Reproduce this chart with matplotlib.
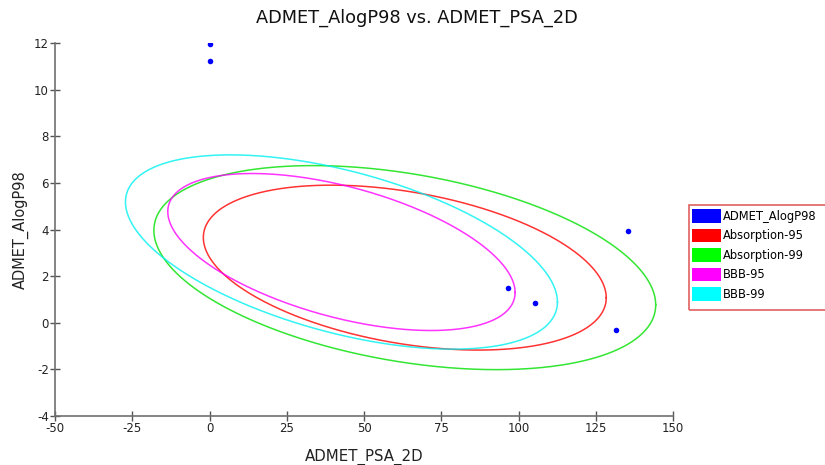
import numpy as np
import matplotlib
matplotlib.use("Agg")
import matplotlib.pyplot as plt
from matplotlib.patches import Patch, Rectangle

plt.rcParams['axes.unicode_minus'] = False

# ---- data ----
psa = [0.0, 0.0, 135.3, 96.6, 105.5, 131.7]
alogp = [11.95, 11.24, 3.96, 1.51, 0.84, -0.30]

ellipse_names = ["Absorption-95", "Absorption-99", "BBB-95", "BBB-99"]
ellipse_cx = [63.2, 63.2, 42.7, 42.7]
ellipse_cy = [2.37, 2.37, 3.04, 3.04]
ellipse_ax = [65.2, 81.2, 56.2, 69.9]     # half-range along PSA
ellipse_ay = [3.54, 4.38, 3.37, 4.17]     # half-range along AlogP
ellipse_rho = [-0.365, -0.365, -0.515, -0.515]
ellipse_colors = ["#ff0000", "#00e000", "#ff00ff", "#00f0f0"]

xticks = [-50, -25, 0, 25, 50, 75, 100, 125, 150]
yticks = [-4, -2, 0, 2, 4, 6, 8, 10, 12]

# ---- figure ----
fig = plt.figure(figsize=(8.25, 4.65), dpi=100)
ax = fig.add_axes([55/825, 1-416/465, (673-55)/825, (416-43.3)/465])

t = np.linspace(0, 2*np.pi, 500)
for cx, cy, a, b, r, c in zip(ellipse_cx, ellipse_cy, ellipse_ax, ellipse_ay,
                              ellipse_rho, ellipse_colors):
    d = np.arccos(r)
    ax.plot(cx + a*np.cos(t), cy + b*np.cos(t - d), color=c, lw=1.1, alpha=0.8)

ax.plot(psa, alogp, 'o', color='#0000ff', ms=4, mec='none', zorder=5)

ax.set_xlim(-50, 150)
ax.set_ylim(-4, 12)
ax.set_xticks(xticks)
ax.set_yticks(yticks)
for s in ['top', 'right']:
    ax.spines[s].set_visible(False)
for s in ['left', 'bottom']:
    ax.spines[s].set_color('#707070')
    ax.spines[s].set_linewidth(1.2)
ax.tick_params(direction='inout', length=7, width=1, color='#555555',
               labelsize=8.5, labelcolor='#222222', pad=1)

ax.set_xlabel("ADMET_PSA_2D", fontsize=10.8, labelpad=10, color='#222222')
ax.set_ylabel("ADMET_AlogP98", fontsize=10.5, labelpad=3.5, color='#222222')
fig.text(0.505, 1-18/465, "ADMET_AlogP98 vs. ADMET_PSA_2D", ha='center',
         va='center', fontsize=12.8, color='#111111')

handles = [Patch(facecolor='#0000ff', edgecolor='none', label='ADMET_AlogP98')]
for n, c in zip(ellipse_names, ["#ff0000", "#00ff00", "#ff00ff", "#00ffff"]):
    handles.append(Patch(facecolor=c, edgecolor='none', label=n))
leg = fig.legend(handles=handles, loc='upper left',
                 bbox_to_anchor=(689/825, 1-206/465), frameon=False,
                 fontsize=8.3, handlelength=2.5,
                 handleheight=1.4, handletextpad=0.15, labelspacing=0.52,
                 borderpad=0.3, borderaxespad=0)
fig.patches.append(Rectangle((689/825, 1-310/465), 140/825, 105/465,
                             transform=fig.transFigure, fill=False,
                             edgecolor='#e06060', linewidth=1.2))

fig.savefig("out.png", dpi=100)
